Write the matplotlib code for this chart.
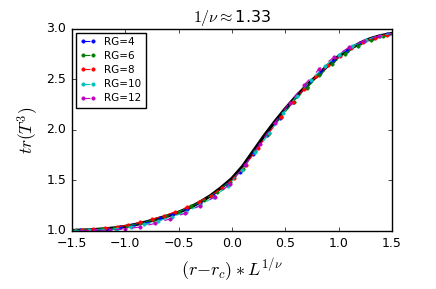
import matplotlib
matplotlib.use("Agg")
import matplotlib.pyplot as plt

plt.style.use("classic")
plt.rcParams["lines.scale_dashes"] = False

# fitted scaling curve
fit_x = [-1.6, -1.5, -1.4, -1.3, -1.2, -1.1, -1.0, -0.9, -0.8, -0.7, -0.6, -0.5, -0.4, -0.3, -0.2, -0.1,
         0.0, 0.1, 0.2, 0.3, 0.4, 0.5, 0.6, 0.7, 0.8, 0.9, 1.0, 1.1, 1.2, 1.3, 1.4, 1.5, 1.6]
fit_y = [1.002, 1.004, 1.008, 1.013, 1.02, 1.03, 1.045, 1.065, 1.09, 1.12, 1.15, 1.185, 1.23, 1.285, 1.35, 1.43,
         1.52, 1.64, 1.79, 1.94, 2.08, 2.21, 2.33, 2.44, 2.54, 2.64, 2.73, 2.80, 2.86, 2.905, 2.935, 2.955, 2.97]

x4 = [-1.55, -1.425, -1.3, -1.175, -1.05, -0.925, -0.8, -0.675, -0.55, -0.425, -0.3, -0.175, -0.05,
      0.075, 0.2, 0.325, 0.45, 0.575, 0.7, 0.825, 0.95, 1.075, 1.2, 1.325, 1.45, 1.575]
y4 = [1.003, 1.007, 1.013, 1.022, 1.037, 1.06, 1.09, 1.127, 1.167, 1.218, 1.28, 1.36, 1.465,
      1.585, 1.765, 1.95, 2.12, 2.28, 2.43, 2.56, 2.68, 2.785, 2.86, 2.912, 2.946, 2.967]

x6 = [-1.58, -1.46, -1.34, -1.22, -1.10, -0.98, -0.86, -0.74, -0.62, -0.50, -0.38, -0.26, -0.14, -0.02,
      0.10, 0.22, 0.34, 0.46, 0.58, 0.70, 0.82, 0.94, 1.06, 1.18, 1.30, 1.42, 1.54]
y6 = [1.004, 1.008, 1.013, 1.021, 1.033, 1.052, 1.077, 1.11, 1.146, 1.19, 1.245, 1.31, 1.39, 1.49,
      1.615, 1.79, 1.96, 2.13, 2.28, 2.415, 2.54, 2.655, 2.755, 2.835, 2.89, 2.93, 2.955]

x8 = [-1.52, -1.41, -1.30, -1.19, -1.08, -0.97, -0.86, -0.75, -0.64, -0.53, -0.42, -0.31, -0.20, -0.09,
      0.02, 0.13, 0.24, 0.35, 0.46, 0.57, 0.68, 0.79, 0.90, 1.01, 1.12, 1.23, 1.34, 1.45, 1.56]
y8 = [1.006, 1.010, 1.017, 1.026, 1.04, 1.06, 1.085, 1.115, 1.15, 1.19, 1.235, 1.29, 1.35, 1.425,
      1.52, 1.655, 1.82, 1.975, 2.13, 2.275, 2.41, 2.53, 2.64, 2.735, 2.81, 2.87, 2.915, 2.945, 2.965]

x10 = [-1.60, -1.47, -1.34, -1.21, -1.08, -0.95, -0.82, -0.69, -0.56, -0.43, -0.30, -0.17, -0.04,
       0.09, 0.22, 0.35, 0.48, 0.61, 0.74, 0.87, 1.00, 1.13, 1.26, 1.39, 1.52]
y10 = [1.000, 1.003, 1.007, 1.013, 1.022, 1.04, 1.065, 1.10, 1.14, 1.19, 1.255, 1.335, 1.445,
       1.60, 1.78, 1.97, 2.165, 2.34, 2.49, 2.63, 2.745, 2.83, 2.895, 2.935, 2.96]

x12 = [-1.56, -1.42, -1.28, -1.14, -1.00, -0.86, -0.72, -0.58, -0.44, -0.30, -0.16, -0.02,
       0.12, 0.26, 0.40, 0.54, 0.68, 0.82, 0.96, 1.10, 1.24, 1.38, 1.52]
y12 = [1.000, 1.002, 1.005, 1.01, 1.02, 1.04, 1.075, 1.12, 1.175, 1.25, 1.34, 1.465,
       1.65, 1.86, 2.07, 2.27, 2.45, 2.605, 2.725, 2.82, 2.885, 2.93, 2.96]

series = [(x4, y4, "b", "RG=4"), (x6, y6, "g", "RG=6"), (x8, y8, "r", "RG=8"),
          (x10, y10, "c", "RG=10"), (x12, y12, "m", "RG=12")]

fig = plt.figure(figsize=(4.36, 2.89), dpi=100, facecolor="white")
ax = fig.add_axes([0.165, 0.2007, 0.734, 0.699])

ax.plot(fit_x, fit_y, "k-", lw=2.4, zorder=1)
for xs, ys, c, lab in series:
    ax.plot(xs, ys, "--o", color=c, lw=0.8, dashes=(5, 7), ms=2.4, mec=c, mew=0.5,
            label=lab, zorder=2)

ax.set_xlim(-1.5, 1.5)
ax.set_ylim(1.0, 3.0)
ax.set_xticks([-1.5, -1.0, -0.5, 0.0, 0.5, 1.0, 1.5])
ax.set_yticks([1.0, 1.5, 2.0, 2.5, 3.0])
ax.tick_params(labelsize=9, length=3)

ax.set_title(r"$1/\nu \approx$1.33", fontsize=11.5)
ax.set_xlabel(r"$(r{-}r_c)*L^{1/\nu}$", fontsize=13)
ax.set_ylabel(r"$tr(T^3)$", fontsize=12.5)

ax.legend(loc="upper left", fontsize=7.5, numpoints=2, handlelength=1.55,
          labelspacing=0.4, borderaxespad=0.35, handletextpad=0.8, borderpad=0.4)

fig.savefig("out.png", dpi=100, facecolor="white")
